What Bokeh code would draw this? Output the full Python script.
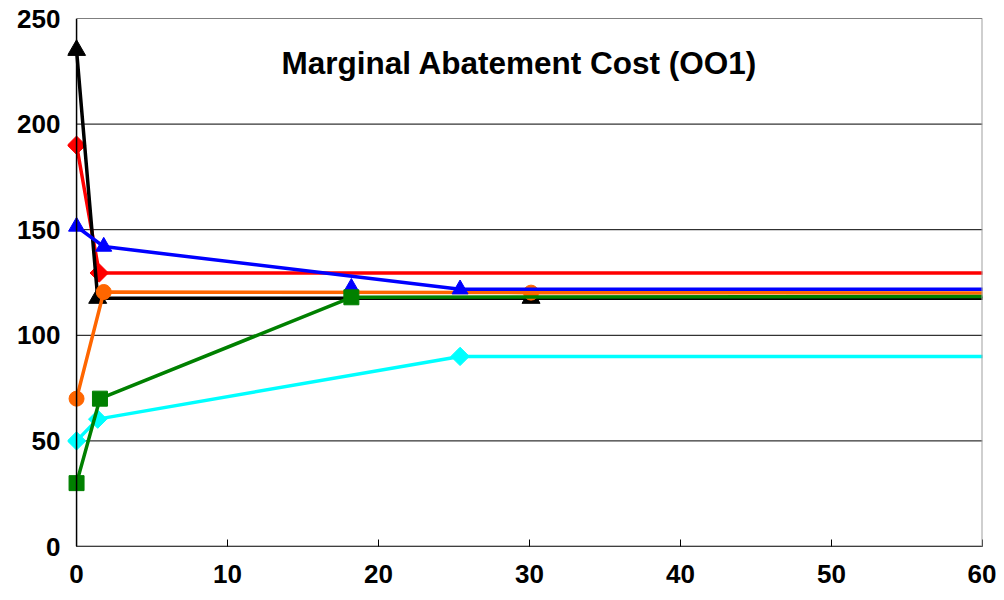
import math
from bokeh.plotting import figure
from bokeh.models import Range1d, FixedTicker, Label, Span
from bokeh.embed import file_html
from bokeh.resources import INLINE

# ---- data ----
title_text = "Marginal Abatement Cost (OO1)"
x_ticks = [0, 10, 20, 30, 40, 50, 60]
y_ticks = [0, 50, 100, 150, 200, 250]

red_x = [0, 1.5, 70]
red_y = [190, 129.5, 129.5]

black_x = [0, 1.4, 30.1, 70]
black_y = [235, 117.6, 117.6, 117.6]

orange_x = [0, 1.8, 30.1, 70]
orange_y = [70, 120.5, 120.2, 120]

green_x = [0, 1.55, 18.2, 70]
green_y = [30, 70, 118, 118.5]

cyan_x = [0, 1.4, 25.4, 70]
cyan_y = [50, 60.3, 90, 90]

blue_x = [0, 1.8, 25.4, 70]
blue_y = [151.5, 142, 121.8, 121.8]

blue_extra_x = [18.2]
blue_extra_y = [122.5]

FONT = "Liberation Sans"
PAD = 0.6  # small pad left of x=0 so markers at x=0 are not clipped
DIAMOND = math.pi / 4

p = figure(width=996, height=592, output_backend="svg", toolbar_location=None,
           x_range=Range1d(-PAD, 60), y_range=Range1d(0, 250),
           min_border_left=67, min_border_right=14, min_border_top=18, min_border_bottom=46)
p.background_fill_color = "white"
p.border_fill_color = "white"
p.outline_line_color = None

# grids drawn manually so they start at x=0
p.xgrid.grid_line_color = None
p.ygrid.grid_line_color = None
p.segment(x0=x_ticks[0], x1=x_ticks[-1], y0=y_ticks, y1=y_ticks,
          line_color="black", line_width=1)

# axes
p.xaxis.ticker = FixedTicker(ticks=x_ticks)
p.yaxis.ticker = FixedTicker(ticks=y_ticks)
for ax in (p.xaxis[0], p.yaxis[0]):
    ax.axis_line_color = None
    ax.major_label_text_font = FONT
    ax.major_label_text_font_style = "bold"
    ax.major_label_text_font_size = "26px"
    ax.major_label_text_color = "black"
    ax.minor_tick_line_color = None
p.xaxis.major_tick_in = 7
p.xaxis.major_tick_out = 0
p.xaxis.major_tick_line_color = "black"
p.xaxis.major_label_standoff = 18
p.yaxis.major_tick_in = 0
p.yaxis.major_tick_out = 0
p.yaxis.major_tick_line_color = None
p.yaxis.major_label_standoff = 7

# axis lines and right border
p.add_layout(Span(location=60, dimension="height", line_color="#a0a0a0", line_width=2))
p.add_layout(Span(location=0, dimension="height", line_color="black", line_width=1.5))
p.segment(x0=[x_ticks[0]], x1=[x_ticks[-1]], y0=[y_ticks[0]], y1=[y_ticks[0]],
          line_color="black", line_width=1.5)

LW = 3.5
# extra blue marker (drawn first, sits under other lines)
p.scatter(blue_extra_x, blue_extra_y, marker="triangle", size=16, color="#0000ff")

# cyan
p.line(cyan_x, cyan_y, line_color="#00ffff", line_width=LW)
p.scatter(cyan_x, cyan_y, marker="square", angle=DIAMOND, size=13, color="#00ffff")
# red
p.line(red_x, red_y, line_color="#ff0000", line_width=LW)
p.scatter(red_x, red_y, marker="square", angle=DIAMOND, size=13, color="#ff0000")
# black
p.line(black_x, black_y, line_color="black", line_width=LW)
p.scatter(black_x, black_y, marker="triangle", size=18, color="black")
# orange
p.line(orange_x, orange_y, line_color="#ff6600", line_width=LW)
p.scatter(orange_x, orange_y, marker="circle", size=15, color="#ff6600")
# green
p.line(green_x, green_y, line_color="#008000", line_width=LW)
p.scatter(green_x, green_y, marker="square", size=15, color="#008000")
# blue
p.line(blue_x, blue_y, line_color="#0000ff", line_width=LW)
p.scatter(blue_x, blue_y, marker="triangle", size=16, color="#0000ff")

title = Label(x=452, y=484, x_units="screen", y_units="screen", text=title_text,
              text_font=FONT, text_font_style="bold", text_font_size="31.5px",
              text_align="center", text_baseline="middle", text_color="black")
p.add_layout(title)

open("out.html", "w").write(file_html(p, INLINE))
